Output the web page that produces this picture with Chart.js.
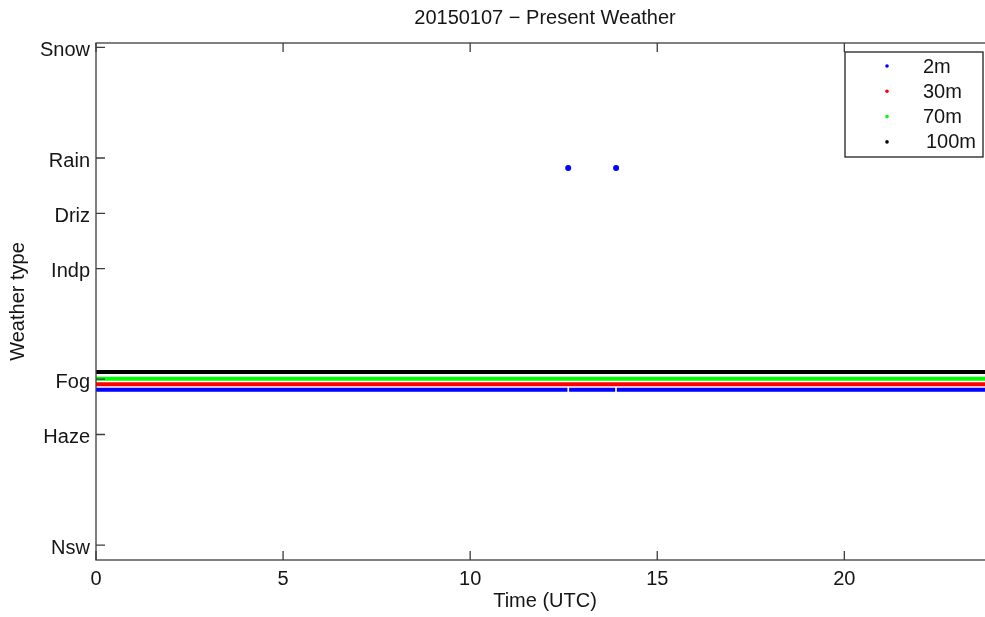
<!DOCTYPE html>
<html>
<head>
<meta charset="utf-8">
<title>Present Weather</title>
<script src="https://cdn.jsdelivr.net/npm/chart.js@4/dist/chart.umd.min.js"></script>
<style>
  html, body { margin: 0; padding: 0; background: #fff; overflow: hidden; }
  #wrap { width: 1000px; height: 617px; }
</style>
</head>
<body>
<div id="wrap"><canvas id="chartTempo" width="1000" height="617"></canvas></div>
<script>
// weather type categories and their codes on the y axis
const categories = ['Nsw', 'Haze', 'Fog', 'Indp', 'Driz', 'Rain', 'Snow'];
const categoryCodes = [0, 2, 3, 5, 6, 7, 9];
const timeTicks = [0, 5, 10, 15, 20];

// sensor heights (legend)
const heights = ['2m', '30m', '70m', '100m'];

// fog level as plotted for each height (the original offsets them a little)
const fogLevel = [2.81, 2.91, 3.01, 3.13];

// periods with fog, [start, end] in hours UTC
const fogRuns2m = [[0, 12.6], [12.645, 13.875], [13.92, 24]];
const fogRuns30m = [[0, 24]];
const fogRuns70m = [[0, 24]];
const fogRuns100m = [[0, 24]];

// rain observations at 2m
const rainTimes2m = [12.62, 13.9];
const rainLevel2m = 6.82;

const COLORS = ['#0000ff', '#ff0000', '#00ff00', '#000000'];
const FONT = "'Liberation Sans', Arial, Helvetica, sans-serif";
const TEXT = '#151515';
const FRAME = '#3c3c3c';

function runsToPoints(runs, level) {
  const pts = [];
  runs.forEach(([a, b]) => {
    pts.push({ x: a, y: level }, { x: b, y: level }, { x: b, y: null });
  });
  return pts;
}

const allRuns = [fogRuns2m, fogRuns30m, fogRuns70m, fogRuns100m];

const datasets = heights.map((h, i) => ({
  label: h,
  data: runsToPoints(allRuns[i], fogLevel[i]),
  borderColor: COLORS[i],
  backgroundColor: COLORS[i],
  borderWidth: 4,
  borderCapStyle: 'butt',
  pointRadius: 0,
  tension: 0,
  spanGaps: false,
  fill: false,
}));

datasets.push({
  label: '2m rain',
  data: rainTimes2m.map(t => ({ x: t, y: rainLevel2m })),
  showLine: false,
  pointRadius: 3,
  pointBorderWidth: 0,
  backgroundColor: COLORS[0],
  borderColor: COLORS[0],
});

// frame with inward ticks (matlab box style) + legend inside the axes
const boxPlugin = {
  id: 'boxPlugin',
  afterDatasetsDraw(chart) {
    const { ctx, chartArea: a, scales } = chart;
    const tl = 9;
    ctx.save();
    ctx.strokeStyle = FRAME;
    ctx.lineWidth = 1.3;
    ctx.strokeRect(a.left, a.top, a.right - a.left, a.bottom - a.top);
    ctx.beginPath();
    scales.y.ticks.forEach(t => {
      const y = scales.y.getPixelForValue(t.value);
      ctx.moveTo(a.left, y); ctx.lineTo(a.left + tl, y);
      ctx.moveTo(a.right, y); ctx.lineTo(a.right - tl, y);
    });
    scales.x.ticks.forEach(t => {
      const x = scales.x.getPixelForValue(t.value);
      ctx.moveTo(x, a.bottom); ctx.lineTo(x, a.bottom - tl);
      ctx.moveTo(x, a.top); ctx.lineTo(x, a.top + tl);
    });
    ctx.stroke();

    // legend
    const lx = 845, ly = 52, lw = 138, lh = 105;
    ctx.fillStyle = '#fff';
    ctx.fillRect(lx, ly, lw, lh);
    ctx.strokeStyle = '#202020';
    ctx.lineWidth = 1.3;
    ctx.strokeRect(lx, ly, lw, lh);
    ctx.font = '20px ' + FONT;
    ctx.textBaseline = 'middle';
    ctx.textAlign = 'left';
    heights.forEach((h, i) => {
      const y = ly + 14 + i * 25.3;
      ctx.fillStyle = COLORS[i];
      ctx.beginPath();
      ctx.arc(lx + 42, y, 1.8, 0, Math.PI * 2);
      ctx.fill();
      ctx.fillStyle = TEXT;
      ctx.fillText(h, lx + 78 + (h.length > 3 ? 3 : 0), y + 1);
    });
    ctx.restore();
  }
};

const ctx = document.getElementById('chartTempo').getContext('2d');
new Chart(ctx, {
  type: 'line',
  data: { datasets },
  plugins: [boxPlugin],
  options: {
    responsive: false,
    animation: false,
    devicePixelRatio: 1,
    layout: { padding: { left: 0, right: 6, top: 0, bottom: 0 } },
    plugins: {
      legend: { display: false },
      tooltip: { enabled: false },
      title: {
        display: true,
        fullSize: false,
        text: '20150107 \u2212 Present Weather',
        color: TEXT,
        font: { family: FONT, size: 20, weight: 'normal' },
        padding: { top: 6, bottom: 13 },
      },
    },
    scales: {
      x: {
        type: 'linear',
        min: 0,
        max: 24,
        afterFit: s => { s.height = 57; },
        afterBuildTicks: s => { s.ticks = timeTicks.map(v => ({ value: v })); },
        grid: { display: false, drawTicks: false },
        border: { display: false },
        ticks: { color: TEXT, font: { family: FONT, size: 20 }, padding: 7, maxRotation: 0 },
        title: {
          display: true,
          text: 'Time (UTC)',
          color: TEXT,
          font: { family: FONT, size: 20 },
          padding: { top: 0, bottom: 4 },
        },
      },
      y: {
        type: 'linear',
        min: -0.27,
        max: 9.08,
        afterFit: s => { s.width = 96; },
        afterBuildTicks: s => { s.ticks = categoryCodes.map(v => ({ value: v })); },
        grid: { display: false, drawTicks: false },
        border: { display: false },
        ticks: {
          color: TEXT,
          font: { family: FONT, size: 20 },
          padding: 6,
          labelOffset: 3,
          callback: v => categories[categoryCodes.indexOf(v)],
        },
        title: {
          display: true,
          text: 'Weather type',
          color: TEXT,
          font: { family: FONT, size: 20 },
          padding: { top: 6, bottom: 0 },
        },
      },
    },
  },
});
</script>
</body>
</html>
